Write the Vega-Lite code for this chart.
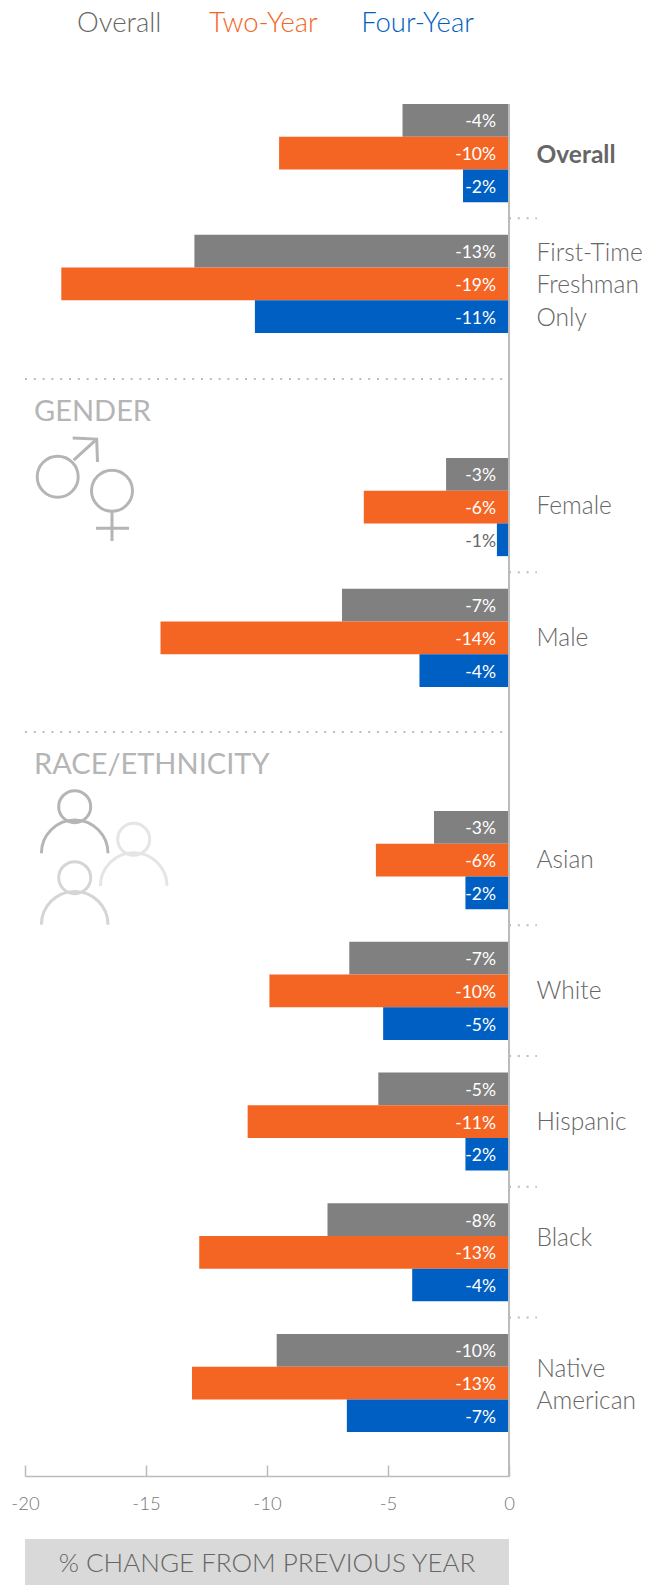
{
"$schema":"https://vega.github.io/schema/vega-lite/v6.json",
"padding":{"left":10,"top":0,"right":0,"bottom":0},
"background":"white",
"spacing":0,
"bounds":"flush",
"config":{"view":{"stroke":null},"font":"Lato","text":{"font":"Lato","fontWeight":300}},
"datasets":{
"top":[
{"group":"Overall","series":"Overall","value":-4.4,"label":"-4%"},
{"group":"Overall","series":"Two-Year","value":-9.5,"label":"-10%"},
{"group":"Overall","series":"Four-Year","value":-1.9,"label":"-2%"},
{"group":"First-Time Freshman Only","series":"Overall","value":-13.0,"label":"-13%"},
{"group":"First-Time Freshman Only","series":"Two-Year","value":-18.5,"label":"-19%"},
{"group":"First-Time Freshman Only","series":"Four-Year","value":-10.5,"label":"-11%"}],
"gender":[
{"group":"Female","series":"Overall","value":-2.6,"label":"-3%"},
{"group":"Female","series":"Two-Year","value":-6.0,"label":"-6%"},
{"group":"Female","series":"Four-Year","value":-0.5,"label":"-1%"},
{"group":"Male","series":"Overall","value":-6.9,"label":"-7%"},
{"group":"Male","series":"Two-Year","value":-14.4,"label":"-14%"},
{"group":"Male","series":"Four-Year","value":-3.7,"label":"-4%"}],
"race":[
{"group":"Asian","series":"Overall","value":-3.1,"label":"-3%"},
{"group":"Asian","series":"Two-Year","value":-5.5,"label":"-6%"},
{"group":"Asian","series":"Four-Year","value":-1.8,"label":"-2%"},
{"group":"White","series":"Overall","value":-6.6,"label":"-7%"},
{"group":"White","series":"Two-Year","value":-9.9,"label":"-10%"},
{"group":"White","series":"Four-Year","value":-5.2,"label":"-5%"},
{"group":"Hispanic","series":"Overall","value":-5.4,"label":"-5%"},
{"group":"Hispanic","series":"Two-Year","value":-10.8,"label":"-11%"},
{"group":"Hispanic","series":"Four-Year","value":-1.8,"label":"-2%"},
{"group":"Black","series":"Overall","value":-7.5,"label":"-8%"},
{"group":"Black","series":"Two-Year","value":-12.8,"label":"-13%"},
{"group":"Black","series":"Four-Year","value":-4.0,"label":"-4%"},
{"group":"Native American","series":"Overall","value":-9.6,"label":"-10%"},
{"group":"Native American","series":"Two-Year","value":-13.1,"label":"-13%"},
{"group":"Native American","series":"Four-Year","value":-6.7,"label":"-7%"}]
},
"vconcat":[
{"width":484,"height":104,"data":{"values":[{"a":1}]},
 "layer":[
 {"mark":{"type":"text","text":"Overall","align":"left","fontSize":27.5,"color":"#666666","yOffset":-28},"encoding":{"x":{"datum":-17.85,"scale":{"domain":[-20,0],"nice":false},"axis":null}}},
 {"mark":{"type":"text","text":"Two-Year","align":"left","fontSize":27.5,"color":"#f46524","yOffset":-28},"encoding":{"x":{"datum":-12.4}}},
 {"mark":{"type":"text","text":"Four-Year","align":"left","fontSize":27.5,"color":"#005fc3","yOffset":-28},"encoding":{"x":{"datum":-6.11}}}
 ]},
{"width":484,"height":275,"data":{"name":"top"},
 "layer":[
 {"mark":{"type":"bar"},"encoding":{
  "y":{"field":"group","type":"nominal","sort":null,"title":null,"scale":{"domain":["Overall","First-Time Freshman Only"],"range":[0,229],"paddingInner":0.25,"paddingOuter":0},
   "axis":{"orient":"right","domain":false,"ticks":false,"labelPadding":27,"labelFontSize":24.5,"labelFont":"Lato","labelColor":"#666666","labelAlign":"left","labelLineHeight":32.5,"labelExpr":"split(datum.value,' ')","labelOffset":{"condition":{"test":"datum.value=='Overall'","value":3},"value":-30},"labelFontWeight":{"condition":{"test":"datum.value=='Overall'","value":700},"value":300}}},
  "yOffset":{"field":"series","scale":{"domain":["Overall","Two-Year","Four-Year"],"paddingInner":0,"paddingOuter":0}},
  "x":{"field":"value","type":"quantitative","scale":{"domain":[-20,0],"nice":false},"axis":null},
  "color":{"field":"series","scale":{"domain":["Overall","Two-Year","Four-Year"],"range":["#808080","#f46524","#005fc3"]},"legend":null}}},
 {"mark":{"type":"text","align":"right","dx":-13,"dy":2,"fontSize":17.5,"fontWeight":400},"encoding":{
  "y":{"field":"group","type":"nominal"},
  "yOffset":{"field":"series","scale":{"domain":["Overall","Two-Year","Four-Year"],"paddingInner":0,"paddingOuter":0}},
  "x":{"datum":0},"text":{"field":"label"},"color":{"value":"white"}}},
 {"mark":{"type":"rule","color":"#bbbbbb","strokeWidth":1.5},"encoding":{"x":{"datum":0}}},
 {"data":{"values":[{"group":"First-Time Freshman Only"}]},"mark":{"type":"rule","color":"#bbbbbb","strokeWidth":2,"strokeDash":[2,6.8],"yOffset":-16.5},"encoding":{"y":{"field":"group","type":"nominal","bandPosition":0},"x":{"datum":0},"x2":{"datum":1.15}}}
 ]},
{"width":484,"height":353,"data":{"name":"gender"},
 "layer":[
 {"mark":{"type":"bar"},"encoding":{
  "y":{"field":"group","type":"nominal","sort":null,"title":null,"scale":{"domain":["Female","Male"],"range":[79,308],"paddingInner":0.25,"paddingOuter":0},
   "axis":{"orient":"right","domain":false,"ticks":false,"labelPadding":27,"labelFontSize":24.5,"labelFont":"Lato","labelFontWeight":300,"labelColor":"#666666","labelAlign":"left","labelOffset":{"condition":{"test":"datum.value=='Male'","value":1},"value":0}}},
  "yOffset":{"field":"series","scale":{"domain":["Overall","Two-Year","Four-Year"],"paddingInner":0,"paddingOuter":0}},
  "x":{"field":"value","type":"quantitative","scale":{"domain":[-20,0],"nice":false},"axis":null},
  "color":{"field":"series","scale":{"domain":["Overall","Two-Year","Four-Year"],"range":["#808080","#f46524","#005fc3"]},"legend":null}}},
 {"mark":{"type":"text","align":"right","dx":-13,"dy":2,"fontSize":17.5,"fontWeight":400},"encoding":{
  "y":{"field":"group","type":"nominal"},
  "yOffset":{"field":"series","scale":{"domain":["Overall","Two-Year","Four-Year"],"paddingInner":0,"paddingOuter":0}},
  "x":{"datum":0},"text":{"field":"label"},"color":{"condition":{"test":"datum.value>-1","value":"#666666"},"value":"white"}}},
 {"mark":{"type":"rule","color":"#bbbbbb","strokeWidth":1.5},"encoding":{"x":{"datum":0}}},
 {"data":{"values":[{"group":"Male"}]},"mark":{"type":"rule","color":"#bbbbbb","strokeWidth":2,"strokeDash":[2,6.8],"yOffset":-16.5},"encoding":{"y":{"field":"group","type":"nominal","bandPosition":0},"x":{"datum":0},"x2":{"datum":1.15}}},
 {"data":{"values":[{"group":"Female"}]},"mark":{"type":"rule","color":"#bbbbbb","strokeWidth":2,"strokeDash":[2,6.8],"yOffset":-79},"encoding":{"y":{"field":"group","type":"nominal","bandPosition":0},"x":{"datum":-20},"x2":{"datum":0}}},
 {"data":{"values":[{"group":"Female"}]},"mark":{"type":"text","text":"GENDER","align":"left","fontSize":29,"fontWeight":400,"color":"#b5b5b5","dx":9,"yOffset":-46},"encoding":{"y":{"field":"group","type":"nominal","bandPosition":0},"x":{"datum":-20}}},
 {"data":{"values":[{"group":"Female"}]},"mark":{"type":"point","filled":false,"size":4,"stroke":"#b5b5b5","strokeWidth":3,"opacity":1,"shape":"M12.2 -30.3 a20.5 20.5 0 1 0 41 0 a20.5 20.5 0 1 0 -41 0 M48.7 -47 L71.7 -68 M47.7 -69 L71.7 -68 L72.5 -45 M66.5 -16.3 a20.5 20.5 0 1 0 41 0 a20.5 20.5 0 1 0 -41 0 M87 4.7 L87 34 M71 21.3 L104 21.3"},"encoding":{"y":{"field":"group","type":"nominal"},"x":{"datum":-20}}}
 ]},
{"width":484,"height":744,"data":{"name":"race"},
 "layer":[
 {"mark":{"type":"bar"},"encoding":{
  "y":{"field":"group","type":"nominal","sort":null,"title":null,"scale":{"domain":["Asian","White","Hispanic","Black","Native American"],"range":[79,700],"paddingInner":0.25,"paddingOuter":0},
   "axis":{"orient":"right","domain":false,"ticks":false,"labelPadding":27,"labelFontSize":24.5,"labelFont":"Lato","labelFontWeight":300,"labelColor":"#666666","labelAlign":"left","labelLineHeight":32.5,"labelExpr":"split(datum.value,' ')","labelOffset":{"condition":[{"test":"datum.value=='Native American'","value":-13},{"test":"datum.value=='Black'","value":-13}],"value":1}}},
  "yOffset":{"field":"series","scale":{"domain":["Overall","Two-Year","Four-Year"],"paddingInner":0,"paddingOuter":0}},
  "x":{"field":"value","type":"quantitative","title":null,"scale":{"domain":[-20,0],"nice":false},
   "axis":{"values":[-20,-15,-10,-5,0],"grid":false,"domainColor":"#bbbbbb","domainWidth":1.5,"tickColor":"#bbbbbb","tickWidth":1.5,"tickSize":-11,"labelPadding":29,"labelFontSize":18.5,"labelFont":"Lato","labelFontWeight":300,"labelColor":"#777777","labelFlush":false,"labelExpr":"replace(datum.label,'\u2212','-')"}},
  "color":{"field":"series","scale":{"domain":["Overall","Two-Year","Four-Year"],"range":["#808080","#f46524","#005fc3"]},"legend":null}}},
 {"mark":{"type":"text","align":"right","dx":-13,"dy":2,"fontSize":17.5,"fontWeight":400},"encoding":{
  "y":{"field":"group","type":"nominal"},
  "yOffset":{"field":"series","scale":{"domain":["Overall","Two-Year","Four-Year"],"paddingInner":0,"paddingOuter":0}},
  "x":{"datum":0},"text":{"field":"label"},"color":{"value":"white"}}},
 {"mark":{"type":"rule","color":"#bbbbbb","strokeWidth":1.5},"encoding":{"x":{"datum":0}}},
 {"data":{"values":[{"group":"White"},{"group":"Hispanic"},{"group":"Black"},{"group":"Native American"}]},"mark":{"type":"rule","color":"#bbbbbb","strokeWidth":2,"strokeDash":[2,6.8],"yOffset":-16.5},"encoding":{"y":{"field":"group","type":"nominal","bandPosition":0},"x":{"datum":0},"x2":{"datum":1.15}}},
 {"data":{"values":[{"group":"Asian"}]},"mark":{"type":"rule","color":"#bbbbbb","strokeWidth":2,"strokeDash":[2,6.8],"yOffset":-79},"encoding":{"y":{"field":"group","type":"nominal","bandPosition":0},"x":{"datum":-20},"x2":{"datum":0}}},
 {"data":{"values":[{"group":"Asian"}]},"mark":{"type":"text","text":"RACE/ETHNICITY","align":"left","fontSize":29,"fontWeight":400,"color":"#b5b5b5","dx":9,"yOffset":-46},"encoding":{"y":{"field":"group","type":"nominal","bandPosition":0},"x":{"datum":-20}}},
 {"data":{"values":[{"group":"Asian"}]},"mark":{"type":"point","filled":false,"size":4,"stroke":"#e5e5e5","strokeWidth":3,"opacity":1,"shape":"M92.7 -20.7 a16 16 0 1 0 32 0 a16 16 0 1 0 -32 0 M75.4 26 a33.3 33.3 0 0 1 66.6 0"},"encoding":{"y":{"field":"group","type":"nominal"},"x":{"datum":-20}}},
 {"data":{"values":[{"group":"Asian"}]},"mark":{"type":"point","filled":false,"size":4,"stroke":"#d5d5d5","strokeWidth":3,"opacity":1,"shape":"M33.7 17.7 a16 16 0 1 0 32 0 a16 16 0 1 0 -32 0 M16.4 64.7 a33.3 33.3 0 0 1 66.6 0"},"encoding":{"y":{"field":"group","type":"nominal"},"x":{"datum":-20}}},
 {"data":{"values":[{"group":"Asian"}]},"mark":{"type":"point","filled":false,"size":4,"stroke":"#b5b5b5","strokeWidth":3,"opacity":1,"shape":"M33.7 -53.3 a16 16 0 1 0 32 0 a16 16 0 1 0 -32 0 M16.4 -6.7 a33.3 33.3 0 0 1 66.6 0"},"encoding":{"y":{"field":"group","type":"nominal"},"x":{"datum":-20}}}
 ]},
{"width":484,"height":63,"data":{"values":[{"a":1}]},
 "mark":{"type":"text","text":" ","fontSize":1,"color":"white"},
 "encoding":{"x":{"datum":-10,"scale":{"domain":[-20,0],"nice":false},"axis":null}}},
{"width":484,"height":46,"view":{"fill":"#d9d9d9","stroke":null},"data":{"values":[{"a":1}]},
 "mark":{"type":"text","text":"% CHANGE FROM PREVIOUS YEAR","fontSize":26,"color":"#666666","yOffset":1.5},
 "encoding":{"x":{"datum":-10,"scale":{"domain":[-20,0],"nice":false},"axis":null}}}
]}
